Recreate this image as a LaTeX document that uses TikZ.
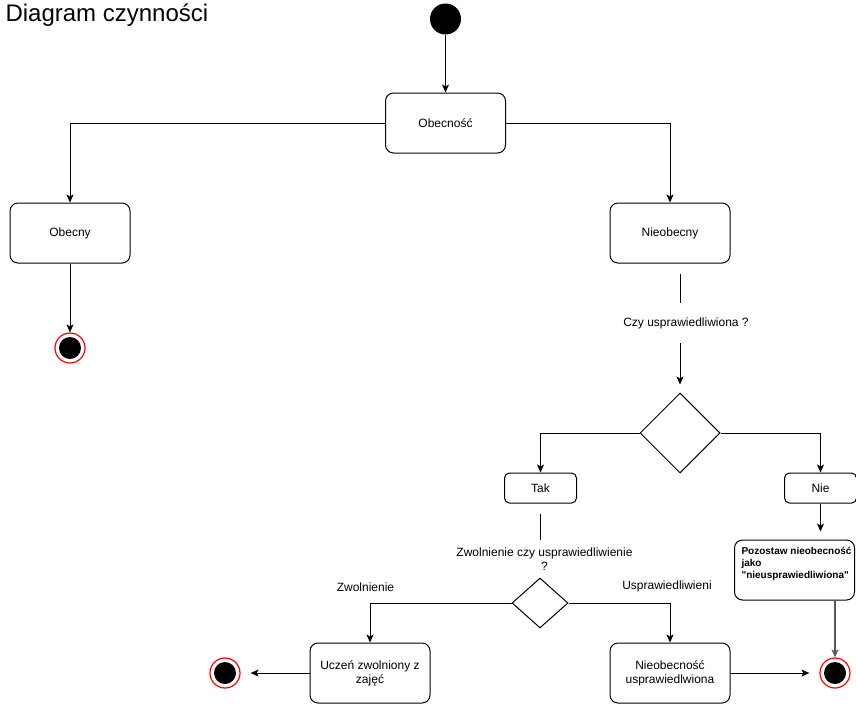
\documentclass[tikz,border=0pt]{standalone}
\usepackage{fontspec}
\setmainfont{Liberation Sans}
\newfontfamily\notefont{Liberation Sans}[Ligatures=TeXOff]
\usetikzlibrary{shapes,arrows.meta}
\tikzset{
  act/.style       = {draw, rectangle, rounded corners=8pt, minimum width=120pt, minimum height=60pt, align=center, font=\fontsize{12}{14}\selectfont},
  opt/.style       = {draw, rectangle, rounded corners=5pt, minimum width=72pt, minimum height=30pt, font=\fontsize{12}{14}\selectfont},
  dec/.style       = {draw, diamond, inner sep=0pt},
  guard/.style     = {align=center, font=\fontsize{12}{14}\selectfont},
  startnode/.style = {circle, fill=black, minimum size=31pt, inner sep=0pt},
  endnode/.style   = {circle, draw=red, line width=1.2pt, fill=white, minimum size=30pt, inner sep=0pt,
                      path picture={\fill[black] (path picture bounding box.center) circle (11pt);}}
}

\begin{document}
\begin{tikzpicture}[x=1pt, y=-1pt, line width=1pt, >={Stealth[length=8pt, width=7pt, inset=2pt]}]
\useasboundingbox (0,0) rectangle (856,704);

% Title
\node [anchor=base west, inner sep=0pt, font=\fontsize{24}{28}\selectfont] (title) at (5,21) {Diagram czynności};

% Top
\node [startnode] (start) at (445.5,19) {};
\node [act, below of=start, node distance=104pt] (obec) {Obecność};
\node [act, below of=obec, xshift=-375.5pt, node distance=110pt] (obecny) {Obecny};
\node [act, below of=obec, xshift=224.5pt, node distance=110pt] (nieob) {Nieobecny};
\node [endnode, below of=obecny, node distance=115pt] (endobecny) {};

% First decision
\node [dec, minimum width=80pt, minimum height=80pt, below of=nieob, xshift=10pt, node distance=200pt] (czy) {};
\node [opt, below of=czy, xshift=-139.5pt, node distance=55pt] (tak) {Tak};
\node [opt, below of=czy, xshift=140.5pt, node distance=55pt] (nie) {Nie};
\node [act, below of=nie, xshift=-26pt, node distance=82pt] (pozo) {};
\node [anchor=north west, inner sep=0pt, align=left, font=\notefont\fontsize{10}{12}\selectfont\bfseries] (pozotxt) at (741,546.5) {Pozostaw nieobecność\\jako\\"nieusprawiedliwiona"};
\node [endnode, below of=pozo, xshift=40.5pt, node distance=103pt] (endpozo) {};

% Second decision
\node [dec, minimum width=56pt, minimum height=50pt, below of=tak, xshift=-0.5pt, node distance=115pt] (zw) {};
\node [act, below of=zw, xshift=-170pt, node distance=70pt] (ucz) {Uczeń zwolniony z\\zajęć};
\node [act, below of=zw, xshift=130pt, node distance=70pt] (nusp) {Nieobecność\\usprawiedlwiona};
\node [endnode, left of=ucz, node distance=145pt] (enducz) {};

% Connections
\draw[->] (start) -- (obec);
\draw[->] (obec.west) -| (obecny.north);
\draw[->] (obec.east) -| (nieob.north);
\draw[->] (obecny) -- (endobecny);
\draw[->, shorten >=8pt] ([yshift=-10pt]nieob.south -| czy.north) -- node[guard, fill=white, minimum height=40pt, xshift=6pt, pos=0.417] (czylbl) {Czy usprawiedliwiona ?} (czy.north);
\draw[->] (czy.west) -| (tak.north);
\draw[->] (czy.east) -| (nie.north);
\draw[->, shorten >=8pt] (nie.south) -- (nie.south |- pozo.north);
\draw[->, gray!70!black, line width=1.3pt] (endpozo |- pozo.south) -- (endpozo.north);
\draw ([yshift=-10pt]tak.south -| zw.north) -- node[guard, fill=white, minimum height=38pt, xshift=4.5pt, pos=0.71] (zwlbl) {Zwolnienie czy usprawiedliwienie\\?} (zw.north);
\draw[->] (zw.west) -| node[guard, above=7.5pt, xshift=-4.5pt, pos=0.5] (zwollbl) {Zwolnienie} (ucz.north);
\draw[->] (zw.east) -| node[guard, above=7.5pt, xshift=-3pt, pos=0.5] (usplbl) {Usprawiedliwieni} (nusp.north);
\draw[->, shorten >=10pt] (ucz.west) -- (enducz.east);
\draw[->, shorten >=10pt] (nusp.east) -- (endpozo.west);

\end{tikzpicture}
\end{document}
